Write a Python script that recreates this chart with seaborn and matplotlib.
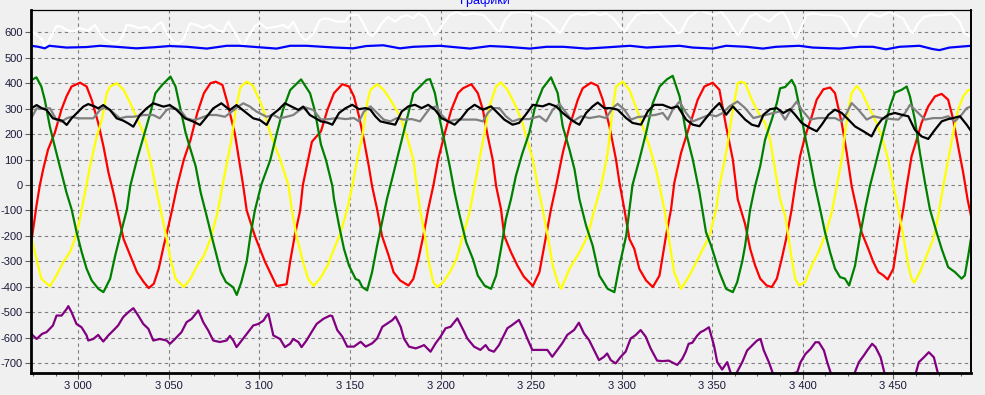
import matplotlib
matplotlib.use("Agg")
import matplotlib.pyplot as plt
import seaborn as sns
import pandas as pd
from matplotlib.ticker import MultipleLocator, FuncFormatter

# ---------------- data ----------------
red_points = [
    (2974.3, -212), (2975.9, -134), (2976.9, -82), (2978.7, -4), (2980.6, 61), (2983.3, 139), (2987, 204),
    (2990.7, 296), (2993.5, 348), (2996.3, 387), (3001, 402), (3004.6, 387), (3007.4, 335), (3011, 244),
    (3013.9, 152), (3016.7, 48), (3019.4, -30), (3022.2, -121), (3025, -212), (3028.7, -277), (3032.4, -342),
    (3036.1, -381), (3038.9, -405), (3041.7, -388), (3044.4, -329), (3047.2, -238), (3049, -186),
    (3051.9, -95), (3054.6, -4), (3058.3, 100), (3062, 178), (3065.7, 283), (3069.4, 361), (3073, 400),
    (3075.9, 406), (3079.6, 393), (3082.4, 322), (3086.5, 200), (3091, 0), (3093, -100), (3097.5, -200),
    (3103, -300), (3109.5, -397), (3115, -390), (3117, -300), (3119.5, -200), (3122.5, -100), (3124, 0),
    (3129, 170), (3134, 211), (3137.6, 296), (3141.2, 361), (3145.8, 396), (3149.5, 387), (3152.2, 348),
    (3155, 270), (3157.7, 178), (3160.4, 74), (3162.2, -4), (3165, -95), (3167.7, -200), (3171.4, -278),
    (3174.1, -343), (3177.7, -375), (3182.3, -395), (3185, -369), (3187.8, -291), (3190.5, -200),
    (3193.2, -95), (3196, -4), (3198.7, 100), (3202.4, 205), (3206, 296), (3209.7, 361), (3212.4, 380),
    (3217, 396), (3220.6, 361), (3223.4, 296), (3226.1, 191), (3228.8, 100), (3230.7, -4), (3233.4, -95),
    (3235.2, -200), (3238.9, -264), (3242.5, -317), (3246, -360), (3251, -397), (3254.6, -343),
    (3258.3, -200), (3261, -95), (3263.8, -4), (3267.5, 126), (3271.2, 230), (3275.8, 335), (3278.5, 380),
    (3283.1, 402), (3286.8, 390), (3289.6, 335), (3293.3, 230), (3296.9, 100), (3298.8, 9), (3301.5, -95),
    (3304.3, -212), (3307, -251), (3309.8, -330), (3313.5, -375), (3317.2, -401), (3320.9, -356),
    (3324.5, -200), (3327.3, -95), (3329.1, 9), (3332.8, 126), (3337.4, 230), (3342, 335), (3345.7, 387),
    (3350.3, 402), (3354, 374), (3357.7, 230), (3361.4, 100), (3364.1, -56), (3368.2, -154), (3371, -251),
    (3373.7, -316), (3376.5, -368), (3380.1, -395), (3382.9, -401), (3385.7, -368), (3388.4, -290),
    (3391.2, -200), (3393.9, -95), (3395.8, -4), (3398.5, 113), (3401.3, 191), (3405, 270), (3407.7, 335),
    (3411.4, 376), (3415.1, 383), (3417.8, 361), (3421.5, 244), (3424.3, 126), (3427, -4), (3429.8, -95),
    (3432.5, -186), (3436.2, -251), (3439, -303), (3441.7, -342), (3444.5, -355), (3446.9, -371),
    (3450, -329), (3452.8, -200), (3455.5, -95), (3457.4, -4), (3460.1, 113), (3462.9, 178), (3465.6, 244),
    (3469.3, 309), (3473, 348), (3476.7, 358), (3480.3, 335), (3483.1, 257), (3485.8, 152), (3488.6, 48),
    (3491, -56), (3493, -125),
]

yellow_points = [
    (2974.3, -212), (2976.9, -290), (2979.6, -368), (2984.3, -398), (2988, -355), (2991.7, -303),
    (2995.4, -264), (2998.1, -212), (3000.9, -134), (3003.7, -30), (3006.5, 74), (3010.2, 191), (3013, 257),
    (3015.7, 361), (3017.6, 387), (3021.3, 400), (3025, 374), (3028.7, 322), (3032.4, 263), (3036.1, 204),
    (3039.8, 100), (3042.6, -4), (3045.4, -95), (3048.1, -186), (3050.9, -290), (3053.7, -368),
    (3058.3, -401), (3062, -368), (3065.7, -316), (3069.4, -277), (3073, -212), (3076.9, -108),
    (3079.6, -4), (3082.4, 100), (3084.3, 165), (3087, 300), (3089.5, 384), (3093, 406), (3096.5, 390),
    (3102, 300), (3106, 203), (3111.5, 100), (3116, 0), (3118, -100), (3120.5, -200), (3124, -300),
    (3127, -370), (3130, -397), (3134, -362), (3137.6, -317), (3141.2, -251), (3144.9, -186), (3148.5, -95),
    (3151.3, -4), (3154, 100), (3156.8, 191), (3159.5, 322), (3161.3, 374), (3165, 396), (3168.6, 374),
    (3172.3, 335), (3177.7, 270), (3181.4, 191), (3185, 100), (3186.9, -4), (3188.7, -95), (3191.4, -200),
    (3193.2, -291), (3196, -382), (3198.2, -401), (3201.5, -382), (3205.1, -343), (3208.8, -291),
    (3212.4, -200), (3216, -108), (3218.8, -4), (3221.5, 100), (3224.3, 205), (3227, 309), (3230.7, 387),
    (3233.4, 403), (3237, 374), (3241.6, 309), (3245.3, 244), (3247.2, 192), (3251, 100), (3253.7, -4),
    (3256.4, -95), (3259.2, -200), (3262, -317), (3264.7, -382), (3266.6, -408), (3271.2, -330),
    (3276.7, -264), (3281.3, -200), (3285, -95), (3288.7, -4), (3292.3, 126), (3295, 296), (3296.9, 387),
    (3300.6, 406), (3304.3, 374), (3309.8, 270), (3315.3, 152), (3319, 61), (3320.9, -4), (3323.6, -95),
    (3326.4, -225), (3329, -343), (3332.8, -408), (3337.4, -356), (3343, -278), (3348.5, -200),
    (3352.2, -95), (3354, -4), (3357.7, 126), (3361.4, 296), (3364.1, 400), (3366, 406), (3368.2, 400),
    (3371.9, 335), (3375.6, 283), (3379.2, 244), (3382, 178), (3384.7, 61), (3387.5, -56), (3390.3, -121),
    (3392.1, -200), (3393.9, -290), (3395.8, -368), (3398, -395), (3401.3, -381), (3405, -316),
    (3408.6, -264), (3412.3, -200), (3416, -108), (3418.8, -4), (3421.5, 100), (3423.3, 204), (3425.2, 296),
    (3427, 361), (3429.8, 389), (3432.5, 367), (3436.2, 309), (3439.9, 257), (3443.6, 191), (3447.2, 100),
    (3450, -4), (3452.8, -95), (3455.5, -200), (3458.3, -316), (3460.1, -368), (3461.6, -384),
    (3464.7, -342), (3468.4, -277), (3472.1, -212), (3474.8, -121), (3477.6, -4), (3480.3, 100),
    (3483.1, 204), (3485.8, 296), (3488.6, 348), (3491.4, 374), (3493, 370),
]

green_points = [
    (2974.3, 413), (2976.9, 423), (2979.6, 387), (2981.5, 335), (2984.3, 230), (2987, 152), (2989.8, 74),
    (2991.7, 22), (2993.5, -30), (2996.3, -95), (2999.1, -186), (3001.9, -264), (3004.6, -329),
    (3007.4, -375), (3011.1, -408), (3013.9, -421), (3017.6, -368), (3020.4, -277), (3023.1, -200),
    (3026.9, -95), (3028.7, -4), (3032.4, 100), (3036.1, 191), (3039.8, 283), (3042.6, 361), (3046.3, 393),
    (3050.9, 426), (3053.7, 387), (3056.5, 296), (3059.3, 204), (3062, 139), (3064.8, 74), (3067.6, -30),
    (3070.4, -108), (3073.1, -186), (3075.9, -264), (3078.7, -342), (3081.5, -381), (3085.5, -402),
    (3087.5, -432), (3090, -382), (3093, -300), (3095, -200), (3097.5, -100), (3101, 0), (3106, 98),
    (3109.5, 200), (3113, 295), (3117, 373), (3123, 415), (3128, 360), (3130.5, 295), (3134, 159),
    (3136.7, 100), (3140.3, -4), (3141.2, -56), (3144, -160), (3146.7, -251), (3149.5, -317), (3153.1, -369),
    (3155, -375), (3156.8, -401), (3159.5, -414), (3162.2, -343), (3165, -238), (3167.7, -147),
    (3170.4, -56), (3173.2, 22), (3175.9, 100), (3179.6, 205), (3182.3, 283), (3185, 361), (3188.7, 387),
    (3192.3, 413), (3194.2, 416), (3196.9, 361), (3199.6, 257), (3202.4, 165), (3205.1, 74), (3207.8, -30),
    (3210.6, -121), (3214.2, -225), (3217.9, -291), (3220.6, -356), (3224.3, -395), (3227.9, -408),
    (3230.7, -356), (3233.4, -251), (3236.1, -134), (3238.9, -56), (3241.6, 35), (3245, 120), (3249, 205),
    (3252, 300), (3256.4, 380), (3261, 423), (3264.7, 361), (3267.5, 230), (3271.2, 139), (3274, 61),
    (3276.7, -56), (3280.4, -160), (3284, -238), (3287.7, -356), (3292.3, -408), (3296, -421),
    (3298.8, -317), (3302.5, -200), (3306, 0), (3309.8, 100), (3313.5, 205), (3317.2, 322), (3321, 387),
    (3325, 415), (3328.2, 429), (3332, 348), (3335.6, 205), (3339.3, 100), (3343, -30), (3346.6, -186),
    (3349.4, -238), (3354, -343), (3357.7, -408), (3361.4, -421), (3363.8, -382), (3366.6, -300),
    (3368.2, -238), (3371, -95), (3373.7, -4), (3376.5, 74), (3379.2, 178), (3382.9, 257), (3385.7, 322),
    (3387.5, 380), (3390.3, 385), (3393.9, 413), (3395.8, 387), (3398.5, 296), (3401.3, 191), (3404, 100),
    (3406.8, -4), (3409.6, -95), (3412.3, -186), (3415.1, -264), (3417.8, -329), (3420.6, -362),
    (3423.3, -368), (3425.6, -395), (3428.9, -316), (3431.6, -200), (3434.4, -95), (3437.1, -4),
    (3439.9, 74), (3442.6, 152), (3445.4, 230), (3448.2, 309), (3450.9, 363), (3454.6, 374), (3457.4, 387),
    (3459.2, 348), (3461.9, 257), (3464.7, 126), (3467.5, 9), (3470.2, -95), (3473.9, -186), (3476.7, -251),
    (3480.3, -323), (3484, -342), (3487.7, -368), (3489.5, -355), (3491.4, -277), (3493, -205),
]

black_points = [
    (2974, 301), (2977, 314), (2980, 301), (2982.5, 295), (2986, 262), (2991, 253), (2993.6, 236),
    (2996.3, 262), (3000, 288), (3002.8, 308), (3005.5, 318), (3009.2, 308), (3011, 301), (3013.8, 314),
    (3017.5, 295), (3021.2, 262), (3024.8, 253), (3027.6, 242), (3030.4, 229), (3034, 275), (3037.7, 301),
    (3041.4, 321), (3047, 308), (3050.6, 314), (3054.3, 295), (3058.9, 262), (3063.5, 249), (3067.2, 236),
    (3070.9, 268), (3074.5, 301), (3079, 321), (3083.7, 295), (3087.4, 314), (3092, 288), (3096.6, 262),
    (3100.3, 255), (3104, 236), (3106.8, 275), (3110.4, 295), (3114.1, 321), (3117.8, 308), (3121.5, 295),
    (3124.2, 308), (3127.9, 275), (3134, 250), (3137.6, 245), (3140.3, 237), (3144, 283), (3147.6, 302),
    (3151.3, 315), (3155, 298), (3158.6, 302), (3161.3, 296), (3164, 270), (3166.8, 250), (3170.4, 244),
    (3175, 237), (3178.6, 289), (3182.3, 309), (3185.9, 315), (3189.6, 302), (3193.2, 315), (3196.9, 296),
    (3200.5, 263), (3204.2, 250), (3207.8, 237), (3211.5, 263), (3215.1, 296), (3218.8, 315), (3223.4, 296),
    (3227.9, 309), (3231.6, 283), (3235.2, 257), (3239.8, 237), (3243.4, 244), (3247, 276), (3251, 315),
    (3256.4, 309), (3260, 319), (3263.8, 309), (3267.5, 283), (3272, 257), (3274.8, 244), (3276.7, 237),
    (3280.4, 283), (3284, 309), (3286.8, 324), (3290.5, 302), (3294, 302), (3297.8, 296), (3302.5, 263),
    (3306, 244), (3310.7, 237), (3314.4, 289), (3318, 315), (3322.7, 315), (3327.3, 302), (3331, 309),
    (3335.6, 257), (3339.3, 237), (3343, 231), (3346.6, 263), (3350.3, 296), (3354, 322), (3357.7, 276),
    (3361.4, 309), (3364, 289), (3368.2, 257), (3371.9, 237), (3375.6, 230), (3378.3, 276), (3382, 298),
    (3385.7, 302), (3389.3, 283), (3393, 298), (3395.8, 276), (3399.4, 244), (3404, 224), (3407.7, 211),
    (3410.5, 237), (3414.2, 276), (3417.8, 296), (3421.5, 283), (3425.2, 257), (3428.9, 230), (3433.5, 211),
    (3438, 191), (3440.8, 230), (3443.6, 257), (3447.2, 276), (3450.9, 283), (3454.6, 276), (3458.3, 270),
    (3461.9, 217), (3465.6, 191), (3469.3, 181), (3473, 217), (3476.7, 250), (3480.3, 259), (3483.1, 263),
    (3486.8, 270), (3490.5, 237), (3493, 211),
]

gray_points = [
    (2974, 262), (2977, 301), (2980.7, 301), (2984.4, 301), (2988, 255), (2990.8, 249), (2993.6, 262),
    (2996.3, 268), (3000, 262), (3003.7, 262), (3008.3, 262), (3012, 295), (3014.7, 305), (3017.5, 295),
    (3023, 262), (3026.7, 268), (3030.4, 268), (3036, 275), (3041.4, 275), (3045, 262), (3048.8, 295),
    (3052.5, 305), (3057, 288), (3059.8, 262), (3063.5, 255), (3067.2, 262), (3071.8, 275), (3076.4, 275),
    (3081, 268), (3084.7, 288), (3088.3, 308), (3091.1, 321), (3094.8, 308), (3098.5, 288), (3104, 268),
    (3107.7, 275), (3111.4, 262), (3115, 268), (3118.7, 275), (3122.4, 295), (3125.2, 305), (3129.8, 295),
    (3134, 257), (3138.5, 259), (3143, 263), (3147.6, 259), (3152.2, 263), (3155, 250), (3157.7, 289),
    (3161.3, 309), (3165, 283), (3168.6, 257), (3172.3, 250), (3175.9, 263), (3179.6, 257), (3184.1, 259),
    (3188.7, 250), (3191.4, 276), (3194.2, 302), (3197.8, 309), (3200.5, 276), (3204.2, 250), (3208.8, 257),
    (3214.2, 257), (3219.7, 257), (3223.4, 250), (3226.1, 283), (3228.8, 302), (3232.5, 302), (3236.1, 270),
    (3239.8, 250), (3243.6, 259), (3249, 259), (3254.6, 270), (3258.3, 250), (3262, 296), (3265.6, 319),
    (3269.4, 283), (3273, 250), (3277.6, 270), (3282.3, 263), (3287.7, 270), (3291.4, 263), (3295, 302),
    (3297.8, 319), (3301.5, 296), (3305.2, 257), (3308.9, 267), (3313.5, 270), (3319, 276), (3322.7, 283),
    (3325.5, 257), (3328.2, 296), (3332, 328), (3335.6, 283), (3339.3, 250), (3343.9, 263), (3348.5, 276),
    (3352.2, 270), (3355.8, 283), (3359.5, 309), (3364, 328), (3368.2, 302), (3372.8, 263), (3376.5, 270),
    (3380.1, 276), (3383.8, 283), (3387.5, 289), (3390.3, 257), (3393.9, 302), (3396.7, 328), (3399.4, 296),
    (3404, 257), (3408.6, 263), (3414.2, 263), (3417.8, 263), (3421.5, 250), (3424.3, 283), (3427, 322),
    (3430.7, 296), (3435.3, 257), (3439, 270), (3443.6, 263), (3449.1, 259), (3452.8, 257), (3456.5, 283),
    (3459.2, 315), (3462.9, 289), (3467.5, 257), (3472.1, 263), (3476.7, 263), (3480.3, 270), (3484, 250),
    (3487.7, 276), (3490.5, 302), (3493, 309),
]

blue_x = [2974, 2978, 2981.5, 2984, 2993.5, 3004.5, 3012, 3021, 3032, 3041.5, 3050.5, 3060, 3071, 3082, 3089,
          3096.5, 3109.5, 3117, 3126, 3135, 3142, 3151.8, 3159, 3168.4, 3177.6, 3185, 3199.7, 3216.3, 3227.3,
          3236.5, 3249.4, 3258.6, 3267.8, 3280.7, 3290, 3304.6, 3313.8, 3321, 3332, 3339.3, 3350.4, 3357.7,
          3368.8, 3378, 3385.3, 3398, 3405.6, 3420.3, 3431.4, 3438.8, 3446, 3453.4, 3464.5, 3471.8, 3475.5, 3481,
          3493]
blue_y = [547, 543, 537, 547, 540, 542, 547, 543, 537, 541, 546, 543, 536, 547, 547,
          543, 536, 547, 547, 543, 540, 537, 546, 549, 537, 543, 547, 536, 546,
          543, 536, 543, 543, 536, 540, 547, 540, 543, 547, 540, 536, 547,
          543, 536, 543, 547, 540, 536, 543, 543, 533, 543, 547, 534, 530, 540,
          547]

white_x = [2974, 2977, 2980, 2981.6, 2984.4, 2988, 2990.8, 2993.6, 2997.2, 3001, 3005.5, 3009.2, 3012, 3014.7,
           3019.3, 3022, 3024.8, 3026.7, 3030.4, 3034, 3037.7, 3040.5, 3043.3, 3046, 3048.8, 3052.5, 3055.2, 3058,
           3061.7, 3065.3, 3069, 3072.7, 3076.4, 3080, 3082.8, 3085.6, 3088.3, 3091, 3093.9, 3097.5, 3100.3, 3104,
           3109.5, 3113.2, 3116, 3118.7, 3121.5, 3124.2, 3126, 3129.8, 3133.4, 3136.2, 3139, 3142.6, 3147.2, 3150,
           3154.6, 3157.4, 3160, 3162, 3164.7, 3167.5, 3171, 3174.8, 3178.5, 3181.3, 3185, 3187.7, 3191.4, 3194.2,
           3197, 3198.8, 3201.5, 3205.2, 3209, 3212.6, 3218, 3223.6, 3227.3, 3231, 3232.8, 3235.6, 3239.3, 3245.7,
           3251.2, 3255, 3258.6, 3262.3, 3266, 3268.7, 3271.5, 3275.2, 3278.8, 3284.4, 3288, 3291.7, 3295.4, 3299,
           3301.8, 3304.6, 3308.3, 3312, 3315.7, 3320.3, 3324.6, 3328.3, 3331, 3332.9, 3336.6, 3340.2, 3343,
           3347.6, 3351.3, 3355, 3358.7, 3361.4, 3364.2, 3367, 3370.6, 3374.3, 3378, 3381.7, 3385.3, 3389, 3391.8,
           3394.5, 3396.4, 3399, 3402, 3405.6, 3411, 3416.6, 3421.2, 3424, 3426.8, 3429.5, 3432.3, 3436.9, 3442.4,
           3448, 3451.6, 3455.3, 3459, 3460.8, 3463.6, 3467.2, 3471.8, 3477.4, 3482, 3486.6, 3489.3, 3493]
white_y = [609, 589, 572, 543, 576, 625, 622, 609, 602, 616, 606, 629, 596, 572,
           557, 560, 589, 629, 625, 616, 622, 602, 629, 639, 596, 563, 557, 570,
           635, 629, 616, 629, 609, 602, 642, 609, 576, 543, 583, 625, 635, 616,
           622, 629, 616, 642, 602, 576, 570, 596, 648, 655, 651, 642, 642, 668,
           668, 635, 596, 585, 602, 635, 661, 642, 661, 668, 655, 674, 661, 622,
           589, 602, 635, 668, 681, 668, 674, 668, 642, 609, 602, 648, 677, 681,
           674, 661, 648, 622, 596, 629, 661, 674, 668, 677, 668, 674, 655, 622,
           602, 635, 668, 677, 674, 681, 648, 622, 596, 602, 655, 674, 688,
           674, 668, 681, 648, 616, 589, 616, 661, 674, 655, 642, 668, 681, 648,
           596, 576, 616, 668, 674, 668, 668, 661, 635, 596, 583, 635, 674, 661,
           681, 668, 655, 609, 596, 635, 661, 668, 668, 674, 642, 596, 583]

purple_x = [2974, 2977, 2980, 2982.5, 2986, 2988, 2990.8, 2993.6, 2994.5, 2996.3, 2999, 3001.8, 3004.6, 3005.5,
            3008.3, 3011, 3013.8, 3016.6, 3019.3, 3022, 3024.8, 3027.6, 3030.4, 3033.1, 3035.9, 3038.7, 3041.4,
            3045, 3048.8, 3050.6, 3053.4, 3057, 3059.8, 3062.6, 3066.3, 3069, 3071.8, 3074.5, 3078.2, 3081.9,
            3083.7, 3085.6, 3087.4, 3090.2, 3093, 3096.6, 3099.4, 3102.2, 3104, 3105, 3107.7, 3111.4, 3114.1,
            3116.9, 3118.7, 3121.5, 3123.3, 3126, 3128.8, 3131.6, 3135.3, 3139, 3140.2, 3143, 3145.8, 3148.5,
            3152.2, 3155.9, 3158.7, 3162.3, 3165, 3167.9, 3170.6, 3173.4, 3175.2, 3178, 3179.8, 3182.6, 3186.3,
            3189, 3190.9, 3194.5, 3197.3, 3200, 3202.8, 3205.6, 3209.3, 3213, 3214.8, 3218.5, 3222, 3224.9,
            3226.8, 3229.5, 3232.3, 3235, 3236.9, 3239.6, 3243.3, 3246, 3247.9, 3250.7, 3255.3, 3259, 3261.7,
            3264.5, 3267.2, 3270, 3273.7, 3276.4, 3279.2, 3282, 3284.7, 3287.5, 3290.3, 3292, 3294, 3296.7,
            3299.5, 3302.2, 3305, 3307.7, 3310.5, 3313.3, 3316, 3319.6, 3322.4, 3326, 3328.8, 3330.7, 3333.4,
            3335.3, 3337, 3339, 3341.7, 3343.6, 3345.4, 3348.2, 3351, 3352.8, 3355.5, 3358.3, 3360.5, 3363,
            3366.6, 3369.3, 3372, 3374.8, 3376.7, 3378.5, 3381.3, 3384, 3389, 3392.3, 3397, 3398.8, 3401.5,
            3404.3, 3407, 3408.9, 3411.7, 3413.5, 3416, 3428, 3431, 3433.7, 3435.6, 3438.3, 3440.2, 3443, 3445.5,
            3462, 3464.1, 3466.9, 3469.6, 3472.4, 3475, 3493]
purple_y = [-585, -605, -585, -578, -552, -513, -513, -487, -476, -500, -546, -559, -591, -611,
            -605, -589, -615, -591, -572, -552, -519, -500, -484, -513, -546, -565, -611,
            -605, -611, -624, -605, -578, -539, -526, -493, -539, -572, -611, -617, -611,
            -593, -611, -637, -611, -585, -552, -546, -533, -513, -506, -591, -605, -637,
            -624, -605, -617, -637, -611, -578, -546, -526, -513, -515, -570, -596, -635,
            -635, -616, -635, -622, -603, -557, -544, -531, -517, -557, -603, -635, -642,
            -635, -629, -655, -622, -596, -563, -557, -524, -576, -603, -635, -648, -629,
            -648, -655, -629, -590, -563, -550, -530, -570, -603, -648, -648, -648, -675,
            -648, -622, -589, -570, -541, -583, -609, -648, -688, -675, -662, -688, -701,
            -675, -655, -603, -590, -570, -596, -642, -690, -692, -690, -700, -707, -684,
            -657, -624, -620, -592, -578, -572, -559, -631, -696, -725, -696, -745, -745,
            -696, -650, -631, -611, -605, -650, -696, -750, -750, -745, -735, -696, -664,
            -644, -618, -618, -650, -696, -750, -750, -696, -670, -650, -624, -637, -677, -750,
            -750, -696, -677, -657, -677, -750, -780]

title_text = "Графики"
x_major = 50
x_minor = 12.5
y_major = 100

# ---------------- figure ----------------
sns.set_style("white")
plt.rcParams["font.family"] = ["Liberation Sans", "DejaVu Sans"]
plt.rcParams["axes.unicode_minus"] = False

BG = "#F0F0F0"
fig = plt.figure(figsize=(9.85, 3.95), dpi=100, facecolor=BG)
ax = fig.add_axes([31 / 985, 22 / 395, 940 / 985, 363 / 395])
ax.set_facecolor(BG)


def pts(p):
    return [a for a, _ in p], [b for _, b in p]


series = [
    (white_x, white_y, "#FFFFFF"),
    (blue_x, blue_y, "#0000FF"),
    (*pts(red_points), "#FF0000"),
    (*pts(yellow_points), "#FFFF00"),
    (*pts(green_points), "#008000"),
    (*pts(gray_points), "#808080"),
    (*pts(black_points), "#000000"),
    (purple_x, purple_y, "#800080"),
]
for xs, ys, col in series:
    df = pd.DataFrame({"x": xs, "y": ys})
    sns.lineplot(data=df, x="x", y="y", ax=ax, color=col, linewidth=1.6,
                 sort=False, estimator=None, legend=False)

ax.set_xlim(2973.9, 3492.9)
ax.set_ylim(-738.7, 687.6)
ax.set_xlabel("")
ax.set_ylabel("")

ax.xaxis.set_major_locator(MultipleLocator(x_major))
ax.xaxis.set_minor_locator(MultipleLocator(x_minor))
ax.yaxis.set_major_locator(MultipleLocator(y_major))
ax.xaxis.set_major_formatter(FuncFormatter(lambda v, p: f"{int(round(v)):,}".replace(",", " ")))
ax.yaxis.set_major_formatter(FuncFormatter(lambda v, p: f"{int(round(v))}"))

ax.set_axisbelow(True)
ax.grid(True, which="major", color="#808080", linestyle=(0, (3, 3)), linewidth=0.8)

for side, lw in (("left", 2.0), ("bottom", 2.0), ("top", 0.9), ("right", 1.4)):
    ax.spines[side].set_visible(True)
    ax.spines[side].set_color("#000000")
    ax.spines[side].set_linewidth(lw)

ax.tick_params(axis="both", which="major", direction="out", length=4, width=0.8,
               color="#606060", labelsize=8, labelcolor="#1a1a3a", bottom=True, left=True, pad=2)
ax.tick_params(axis="x", which="minor", direction="out", length=2.5, width=0.8,
               color="#606060", bottom=True)

fig.text(485 / 985, 1 - 4 / 395, title_text, color="#0000FF", fontsize=9,
         ha="center", va="baseline")

fig.savefig("out.png", dpi=100, facecolor=BG)
